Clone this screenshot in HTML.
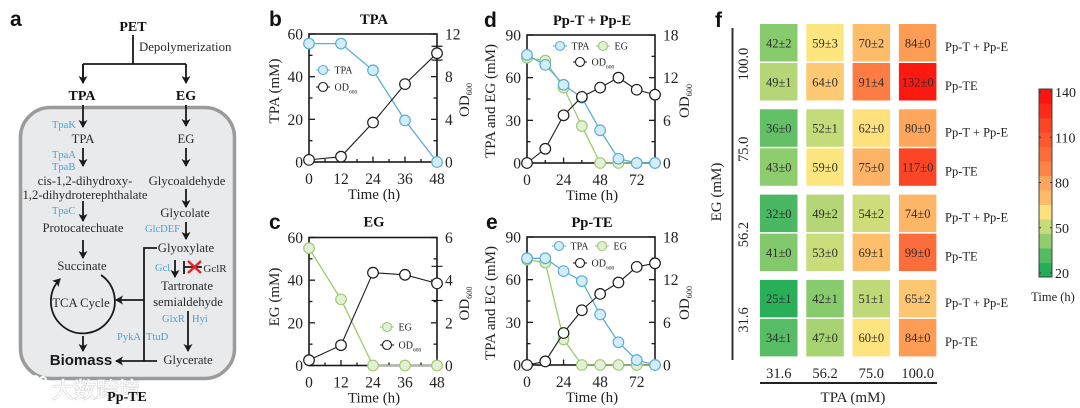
<!DOCTYPE html>
<html lang="en">
<head>
<meta charset="utf-8">
<title>PET degradation figure</title>
<style>
html,body{margin:0;padding:0;background:#fff;width:1080px;height:408px;overflow:hidden}
svg{display:block;font-family:"Liberation Serif","Noto Serif CJK SC",serif;fill:#222}
.panel{font-family:"Liberation Sans",sans-serif;font-weight:700;font-size:21px;fill:#111}
.m{font-size:12.7px;text-anchor:middle;fill:#2a2a2a}
.b{font-size:14px;font-weight:700;text-anchor:middle;fill:#111}
.e{font-size:10.5px;fill:#4a9fd0}
.wf{stroke:#1a1a1a;stroke-width:1.8;fill:none}
.hd{fill:#1a1a1a;stroke:none}
</style>
</head>
<body>
<svg id="fig" xmlns="http://www.w3.org/2000/svg" width="1080" height="408" viewBox="0 0 1080 408">
<defs>
<marker id="ah" markerWidth="9" markerHeight="9" refX="7" refY="4.5" orient="auto" markerUnits="userSpaceOnUse"><path d="M0,0 L8,4.5 L0,9 L2,4.5 Z" fill="#1a1a1a"/></marker>
</defs>

<g id="panel-a">
<text class="panel" x="10" y="26">a</text>
<rect x="20.5" y="107.5" width="214" height="271" rx="30" ry="30" fill="#e9eaeb" stroke="#9b9b9b" stroke-width="3.5"/>
<text class="b" x="133" y="31">PET</text>
<text x="139" y="51" font-size="12.8" fill="#2a2a2a">Depolymerization</text>
<path class="wf" d="M133,35V64M83,64H186M83,64V82M186,64V83" marker-end="url(#ah)"/>
<path class="wf" d="M83,64V83" marker-end="url(#ah)"/>
<text class="b" x="82" y="100">TPA</text>
<text class="b" x="186" y="100">EG</text>

<g>
<path class="wf" d="M83,105V127" marker-end="url(#ah)"/>
<path class="wf" d="M186,105V126" marker-end="url(#ah)"/>
<path class="wf" d="M83,148V166" marker-end="url(#ah)"/>
<path class="wf" d="M186,148V166" marker-end="url(#ah)"/>
<path class="wf" d="M83,201V221" marker-end="url(#ah)"/>
<path class="wf" d="M186,189V207" marker-end="url(#ah)"/>
<path class="wf" d="M186,222V239" marker-end="url(#ah)"/>
<path class="wf" d="M83,240V258" marker-end="url(#ah)"/>
<path class="wf" d="M175,260V277" marker-end="url(#ah)"/>
<path class="wf" d="M188,311V351" marker-end="url(#ah)"/>
<path class="wf" d="M157,248H144V361"/>
<path class="wf" d="M144,300H116" marker-end="url(#ah)"/>
<path class="wf" d="M157,361H116" marker-end="url(#ah)"/>
<path class="wf" d="M83,336V351" marker-end="url(#ah)"/>
<path class="wf" d="M101,275 A32,32 0 1 1 60,279" marker-end="url(#ah)"/>
<path class="wf" d="M184,261V274M184,267H202"/>
<path d="M188,261L201,273M201,261L188,273" stroke="#e8202a" stroke-width="2.4" fill="none"/>
</g>

<text class="m" x="83" y="143">TPA</text>
<text class="m" x="186" y="143">EG</text>
<text class="m" x="85" y="185">cis-1,2-dihydroxy-</text>
<text class="m" x="85" y="199">1,2-dihydroterephthalate</text>
<text class="m" x="187" y="185">Glycoaldehyde</text>
<text class="m" x="185" y="217">Glycolate</text>
<text class="m" x="83" y="232">Protocatechuate</text>
<text class="m" x="186" y="252">Glyoxylate</text>
<text class="m" x="82" y="270">Succinate</text>
<text class="m" x="187" y="290">Tartronate</text>
<text class="m" x="188" y="306">semialdehyde</text>
<text class="m" x="188" y="364">Glycerate</text>
<text class="m" x="81" y="307">TCA Cycle</text>
<text x="215" y="272" font-size="11" text-anchor="middle" fill="#2a2a2a">GclR</text>
<text x="81" y="365" font-family="Liberation Sans" font-weight="700" font-size="15" text-anchor="middle" fill="#1a1a1a">Biomass</text>

<g>
<text class="e" x="52" y="128">TpaK</text>
<text class="e" x="52" y="158">TpaA</text>
<text class="e" x="52" y="170">TpaB</text>
<text class="e" x="52" y="214">TpaC</text>
<text class="e" x="145" y="232" font-size="11">GlcDEF</text>
<text class="e" x="155" y="271">Gcl</text>
<text class="e" x="162" y="322">GlxR</text>
<text class="e" x="192" y="322">Hyi</text>
<text class="e" x="117" y="340">PykA</text>
<text class="e" x="146" y="340">TtuD</text>
</g>

<g>
<path d="M14,378 q-6,8 0,16 q8,4 14,-2 M20,380 v14" fill="none" stroke="#fff" stroke-width="3"/>
<circle cx="26" cy="381" r="4" fill="none" stroke="#fff" stroke-width="2"/>
<circle cx="35" cy="380" r="4" fill="none" stroke="#fff" stroke-width="2"/>
<circle cx="43" cy="380" r="3" fill="none" stroke="#fff" stroke-width="2"/>
<text x="52" y="398" font-family="'Noto Sans CJK SC',sans-serif" font-size="22" fill="#fff" stroke="#d6d6d6" stroke-width="1.2" paint-order="stroke">大数跨境</text>
</g>
<text class="b" x="127" y="401" font-size="13">Pp-TE</text>
</g>

<g id="charts"></g>
<g id="heat"></g>
</svg>

<script>
// ---- Panel b data ----
const bTimes = [0, 12, 24, 36, 48];
const bTPA = [55.5, 55.5, 43, 19.5, 0];
const bOD = [0.2, 0.5, 3.7, 7.3, 10.2];
const bODErr = [0, 0, 0, 0, 0.65];
const bLeftTicks = [0, 20, 40, 60];
const bRightTicks = [0, 4, 8, 12];
const bXTicks = [0, 12, 24, 36, 48];

// ---- Panel c data ----
const cTimes = [0, 12, 24, 36, 48];
const cEG = [55, 31, 0, 0, 0];
const cOD = [0.25, 0.95, 4.35, 4.25, 3.85];
const cODErr = [0, 0, 0, 0, 0.8];
const cLeftTicks = [0, 20, 40, 60];
const cRightTicks = [0, 2, 4, 6];
const cXTicks = [0, 12, 24, 36, 48];

// ---- Panel d data ----
const dTimes = [0, 12, 24, 36, 48, 60, 72, 84];
const dTPA = [76, 69, 55, 46, 23, 3, 0, 0];
const dEG = [74, 72, 53, 26, 0, 0, 0, 0];
const dOD = [0, 2, 6.7, 9.3, 10.6, 12, 10.3, 9.6];
const dLeftTicks = [0, 30, 60, 90];
const dRightTicks = [0, 6, 12, 18];
const dXTicks = [0, 24, 48, 72];

// ---- Panel e data ----
const eTimes = [0, 12, 24, 36, 48, 60, 72, 84];
const eTPA = [75, 75, 66, 59, 35.5, 16, 3.5, 0];
const eEG = [74, 72, 18, 0, 0, 0, 0, 0];
const eOD = [0, 0.5, 4.5, 7.7, 10, 11.6, 13.8, 14.3];
const eLeftTicks = [0, 30, 60, 90];
const eRightTicks = [0, 6, 12, 18];
const eXTicks = [0, 24, 48, 72];

// ---- Panel f data ----
const tpaLevels = ['31.6', '56.2', '75.0', '100.0'];
const egLevels = ['100.0', '75.0', '56.2', '31.6'];
const cocultureTimes = [[42, 59, 70, 84], [36, 52, 62, 80], [32, 49, 54, 74], [25, 42, 51, 65]];
const cocultureErrors = [[2, 3, 2, 0], [0, 1, 0, 0], [0, 2, 2, 0], [1, 1, 1, 2]];
const monocultureTimes = [[49, 64, 91, 132], [43, 59, 75, 117], [41, 53, 69, 99], [34, 47, 60, 84]];
const monocultureErrors = [[1, 0, 4, 0], [0, 0, 0, 0], [0, 0, 1, 0], [1, 0, 0, 0]];
const colorbarTicks = [20, 50, 80, 110, 140];
const colorbarBins = 13;
const colorbarMin = 20;
const colorbarMax = 140;

const NS = 'http://www.w3.org/2000/svg';
const BLUE = {stroke: '#5dadd6', fill: '#d3edf8', width: 1.3};
const GREEN = {stroke: '#9ccb6f', fill: '#e3f0d7', width: 1.3};
const BLACK = {stroke: '#1c1c1c', fill: '#ffffff', width: 1.1};
const INK = '#222';

function make(parent, tag, attrs, text) {
  const n = document.createElementNS(NS, tag);
  for (const k in attrs) n.setAttribute(k, attrs[k]);
  if (text !== undefined) n.textContent = text;
  parent.appendChild(n);
  return n;
}
function linear(d0, d1, r0, r1) {
  return v => r0 + (v - d0) * (r1 - r0) / (d1 - d0);
}
function addOD(parent, attrs) {
  const t = make(parent, 'text', attrs, 'OD');
  const sub = make(t, 'tspan', {dy: 3, 'font-size': parseFloat(attrs['font-size']) * 0.55}, '600');
  
  
  return t;
}

function drawSeries(g, times, vals, x, y, col, err) {
  const pts = times.map((t, i) => x(t) + ',' + y(vals[i])).join(' ');
  const line = make(g, 'polyline', {points: pts, fill: 'none', stroke: col.stroke, 'stroke-width': col.width});
  
  
  times.forEach((t, i) => {
    if (err && err[i] > 0) {
      const eb = make(g, 'path', {
        d: 'M' + (x(t) - 5.5) + ',' + y(vals[i] + err[i]) + 'H' + (x(t) + 5.5) +
           'M' + x(t) + ',' + y(vals[i] + err[i]) + 'V' + y(vals[i] - err[i]) +
           'M' + (x(t) - 5.5) + ',' + y(vals[i] - err[i]) + 'H' + (x(t) + 5.5),
        fill: 'none', stroke: col.stroke, 'stroke-width': 1.2});
      
      
    }
    const c = make(g, 'circle', {cx: x(t), cy: y(vals[i]), r: 5.3, fill: col.fill, stroke: col.stroke, 'stroke-width': 1.2});
    
    
  });
}

function legendEntry(g, cx, cy, col, label, isOD) {
  const l = make(g, 'line', {x1: cx - 7, x2: cx + 7, y1: cy, y2: cy, stroke: col.stroke, 'stroke-width': 1.1});
  
  
  const c = make(g, 'circle', {cx: cx, cy: cy, r: 4.5, fill: col.fill, stroke: col.stroke, 'stroke-width': 1.1});
  
  
  const attrs = {x: cx + 11.5, y: cy + 3.3, 'font-size': 10, fill: INK};
  const t = isOD ? addOD(g, attrs) : make(g, 'text', attrs, label);
  
  
}

function drawChart(cfg) {
  const root = document.getElementById('charts');
  const g = make(root, 'g', {});
  
  
  const B = cfg.box;
  const x = linear(cfg.xMax[0], cfg.xMax[1], B.l, B.r);
  const yL = linear(0, cfg.leftTicks[cfg.leftTicks.length - 1], B.b, B.t);
  const yR = linear(0, cfg.rightTicks[cfg.rightTicks.length - 1], B.b, B.t);

  const letter = make(g, 'text', {x: cfg.letter[1], y: cfg.letter[2], class: 'panel'}, cfg.letter[0]);
  
  

  const title = make(g, 'text', {x: (B.l + B.r) / 2 + 1, y: B.t - 10 + cfg.titleDy, 'font-size': 14.5, 'font-weight': 700, 'text-anchor': 'middle', fill: '#111'}, cfg.title);
  
  

  const frame = make(g, 'rect', {x: B.l, y: B.t, width: B.r - B.l, height: B.b - B.t, fill: 'none', stroke: '#1a1a1a', 'stroke-width': 1.6});
  
  

  function tick(x1, y1, x2, y2) {
    const t = make(g, 'line', {x1: x1, y1: y1, x2: x2, y2: y2, stroke: '#1a1a1a', 'stroke-width': 1.3});
    
    
  }
  const lStep = cfg.leftTicks[1] - cfg.leftTicks[0];
  cfg.leftTicks.forEach((v, i) => {
    tick(B.l, yL(v), B.l + 6, yL(v));
    if (i < cfg.leftTicks.length - 1) tick(B.l, yL(v + lStep / 2), B.l + 3.5, yL(v + lStep / 2));
    const t = make(g, 'text', {x: B.l - 6, y: yL(v) + 5.5, 'font-size': 15.5, 'text-anchor': 'end', fill: INK}, String(v));
    
    
  });
  const rStep = cfg.rightTicks[1] - cfg.rightTicks[0];
  cfg.rightTicks.forEach((v, i) => {
    tick(B.r, yR(v), B.r - 6, yR(v));
    if (i < cfg.rightTicks.length - 1) tick(B.r, yR(v + rStep / 2), B.r - 3.5, yR(v + rStep / 2));
    const t = make(g, 'text', {x: B.r + 8, y: yR(v) + 5.5, 'font-size': 15.5, fill: INK}, String(v));
    
    
  });
  const xStep = cfg.xTicks[1] - cfg.xTicks[0];
  cfg.xTicks.forEach(v => {
    tick(x(v), B.b, x(v), B.b - 5.5);
    if (v + xStep / 2 <= cfg.xMax[1]) tick(x(v + xStep / 2), B.b, x(v + xStep / 2), B.b - 3);
    const t = make(g, 'text', {x: x(v), y: B.b + 22, 'font-size': 15.5, 'text-anchor': 'middle', fill: INK}, String(v));
    
    
  });

  const xt = make(g, 'text', {x: (B.l + B.r) / 2 + 1, y: B.b + 37, 'font-size': 15, 'text-anchor': 'middle', fill: INK}, 'Time (h)');
  
  
  const yt = make(g, 'text', {transform: 'translate(' + cfg.yTitleX + ',' + (cfg.yTitleY) + ') rotate(-90)', 'font-size': 15, 'text-anchor': 'middle', fill: INK}, cfg.yTitle);
  
  
  const ot = addOD(g, {transform: 'translate(' + cfg.odX + ',' + ((B.t + B.b) / 2 + 2) + ') rotate(-90)', 'font-size': 15, 'text-anchor': 'middle', fill: INK});
  
  

  cfg.series.forEach(s => {
    const sg = make(g, 'g', {});
    
    
    drawSeries(sg, cfg.times, s.vals, x, s.axis === 'R' ? yR : yL, s.col, s.err);
  });
  cfg.legend.forEach(e => legendEntry(g, e[0], e[1], e[2], e[3], e[4]));
}

drawChart({
  box: {l: 309, r: 437, t: 34, b: 162}, xMax: [0, 48], letter: ['b', 269, 26], title: 'TPA', titleDy: 0,
  times: bTimes, leftTicks: bLeftTicks, rightTicks: bRightTicks, xTicks: bXTicks,
  yTitle: 'TPA (mM)', yTitleX: 279, yTitleY: 91, odX: 469,
  series: [{vals: bTPA, col: BLUE, axis: 'L'}, {vals: bOD, col: BLACK, axis: 'R', err: bODErr}],
  legend: [[323, 70, BLUE, 'TPA'], [323, 87, BLACK, 'OD', true]]
});
drawChart({
  box: {l: 309, r: 437, t: 237.5, b: 365.5}, xMax: [0, 48], letter: ['c', 269, 229], title: 'EG', titleDy: -1,
  times: cTimes, leftTicks: cLeftTicks, rightTicks: cRightTicks, xTicks: cXTicks,
  yTitle: 'EG (mM)', yTitleX: 279, yTitleY: 297, odX: 469,
  series: [{vals: cEG, col: GREEN, axis: 'L'}, {vals: cOD, col: BLACK, axis: 'R', err: cODErr}],
  legend: [[387, 327, GREEN, 'EG'], [387, 345, BLACK, 'OD', true]]
});
drawChart({
  box: {l: 527, r: 655, t: 35, b: 163}, xMax: [0, 84], letter: ['d', 484, 27], title: 'Pp-T + Pp-E', titleDy: 0,
  times: dTimes, leftTicks: dLeftTicks, rightTicks: dRightTicks, xTicks: dXTicks,
  yTitle: 'TPA and EG (mM)', yTitleX: 495, yTitleY: 101, odX: 689,
  series: [{vals: dEG, col: GREEN, axis: 'L'}, {vals: dTPA, col: BLUE, axis: 'L'}, {vals: dOD, col: BLACK, axis: 'R'}],
  legend: [[560, 46, BLUE, 'TPA'], [603, 46, GREEN, 'EG'], [580, 62, BLACK, 'OD', true]]
});
drawChart({
  box: {l: 527, r: 655, t: 237, b: 365}, xMax: [0, 84], letter: ['e', 486, 229], title: 'Pp-TE', titleDy: 0,
  times: eTimes, leftTicks: eLeftTicks, rightTicks: eRightTicks, xTicks: eXTicks,
  yTitle: 'TPA and EG (mM)', yTitleX: 495, yTitleY: 303, odX: 689,
  series: [{vals: eEG, col: GREEN, axis: 'L'}, {vals: eTPA, col: BLUE, axis: 'L'}, {vals: eOD, col: BLACK, axis: 'R'}],
  legend: [[559, 246, BLUE, 'TPA'], [602, 246, GREEN, 'EG'], [580, 263, BLACK, 'OD', true]]
});

// ---- Heatmap ----
const scaleStops = [[20, '#10a850'], [32, '#4ab863'], [42, '#88cb6c'], [50, '#bad877'], [56, '#d8e07c'], [59, '#fde680'], [62, '#fee07c'], [64, '#fdc972'], [75, '#fdb365'], [84, '#fd9c55'], [91, '#fd7c44'], [99, '#fd6c3b'], [117, '#fb4527'], [132, '#fc1a10'], [140, '#fb0f0f']];
function hex(c) { return [1, 3, 5].map(i => parseInt(c.slice(i, i + 2), 16)); }
function colorOf(v) {
  for (let i = 1; i < scaleStops.length; i++) {
    if (v <= scaleStops[i][0]) {
      const a = scaleStops[i - 1], b = scaleStops[i], t = Math.max(0, (v - a[0]) / (b[0] - a[0]));
      const A = hex(a[1]), B = hex(b[1]);
      return 'rgb(' + A.map((q, k) => Math.round(q + (B[k] - q) * t)).join(',') + ')';
    }
  }
  return scaleStops[scaleStops.length - 1][1];
}
(function () {
  const H = document.getElementById('heat');
  const colX = i => 760 + 46.3 * i;
  const rowY = (grp, sub) => 24 + 85.3 * grp + 39 * sub;
  const cellSize = 37.5;
  const letter = make(H, 'text', {x: 715, y: 27, class: 'panel'}, 'f');
  
  

  function cell(grp, sub, col, val, err) {
    const r = make(H, 'rect', {x: colX(col), y: rowY(grp, sub), width: cellSize, height: cellSize, fill: colorOf(val)});
    
    
    const t = make(H, 'text', {x: colX(col) + cellSize / 2, y: rowY(grp, sub) + cellSize / 2 + 4.5, 'font-size': 12.5, 'text-anchor': 'middle', fill: '#2e2e2e'}, val + '±' + err);
    
    
  }
  egLevels.forEach((eg, g) => {
    tpaLevels.forEach((tp, c) => {
      cell(g, 0, c, cocultureTimes[g][c], cocultureErrors[g][c]);
      cell(g, 1, c, monocultureTimes[g][c], monocultureErrors[g][c]);
    });
    const l1 = make(H, 'text', {x: 945, y: rowY(g, 0) + 27, 'font-size': 12.5, fill: INK}, 'Pp-T + Pp-E');
    
    
    const l2 = make(H, 'text', {x: 945, y: rowY(g, 1) + 27, 'font-size': 12.5, fill: INK}, 'Pp-TE');
    
    
    const yl = make(H, 'text', {transform: 'translate(' + 748 + ',' + (rowY(g, 0) + 40) + ') rotate(-90)', 'font-size': 14.5, 'text-anchor': 'middle', fill: INK}, eg);
    
    
  });
  tpaLevels.forEach((tp, c) => {
    const t = make(H, 'text', {x: colX(c) + cellSize / 2, y: 378, 'font-size': 14.5, 'text-anchor': 'middle', fill: INK}, tp);
    
    
  });
  const yAxis = make(H, 'line', {x1: 732.5, x2: 732.5, y1: 28, y2: 360, stroke: '#333', 'stroke-width': 2});
  
  
  const xAxis = make(H, 'line', {x1: 760, x2: 937, y1: 383, y2: 383, stroke: '#222', 'stroke-width': 2});
  
  
  const xTitle = make(H, 'text', {x: 853, y: 402, 'font-size': 15, 'text-anchor': 'middle', fill: INK}, 'TPA (mM)');
  
  
  const yTitle = make(H, 'text', {transform: 'translate(721,192) rotate(-90)', 'font-size': 15, 'text-anchor': 'middle', fill: INK}, 'EG (mM)');
  
  

  // colorbar
  const cbTop = 89, cbBottom = 277, cbL = 1039, cbR = 1052;
  const cbY = linear(colorbarMin, colorbarMax, cbBottom, cbTop);
  const cbTickY = linear(colorbarMin, colorbarMax, 273, 92);
  const binSize = (colorbarMax - colorbarMin) / colorbarBins;
  for (let i = 0; i < colorbarBins; i++) {
    const lo = colorbarMin + i * binSize;
    const r = make(H, 'rect', {x: cbL, y: cbY(lo + binSize), width: cbR - cbL, height: cbY(lo) - cbY(lo + binSize) + 0.3, fill: colorOf(lo + binSize / 2)});
    
    
  }
  const frame = make(H, 'rect', {x: cbL, y: cbTop, width: cbR - cbL, height: cbBottom - cbTop, fill: 'none', stroke: '#333', 'stroke-width': 0.9});
  
  
  colorbarTicks.forEach(v => {
    const t = make(H, 'text', {x: 1055, y: cbTickY(v) + 5, 'font-size': 14, fill: INK}, String(v));
    
    
    const m1 = make(H, 'line', {x1: cbL, x2: cbL + 2, y1: cbTickY(v), y2: cbTickY(v), stroke: '#333', 'stroke-width': 1});
    
    
    const m2 = make(H, 'line', {x1: cbR, x2: cbR - 2, y1: cbTickY(v), y2: cbTickY(v), stroke: '#333', 'stroke-width': 1});
    
    
  });
  const cbTitle = make(H, 'text', {x: 1053, y: 301, 'font-size': 12.5, 'text-anchor': 'middle', fill: INK}, 'Time (h)');
  
  
})();
</script>
</body>
</html>
